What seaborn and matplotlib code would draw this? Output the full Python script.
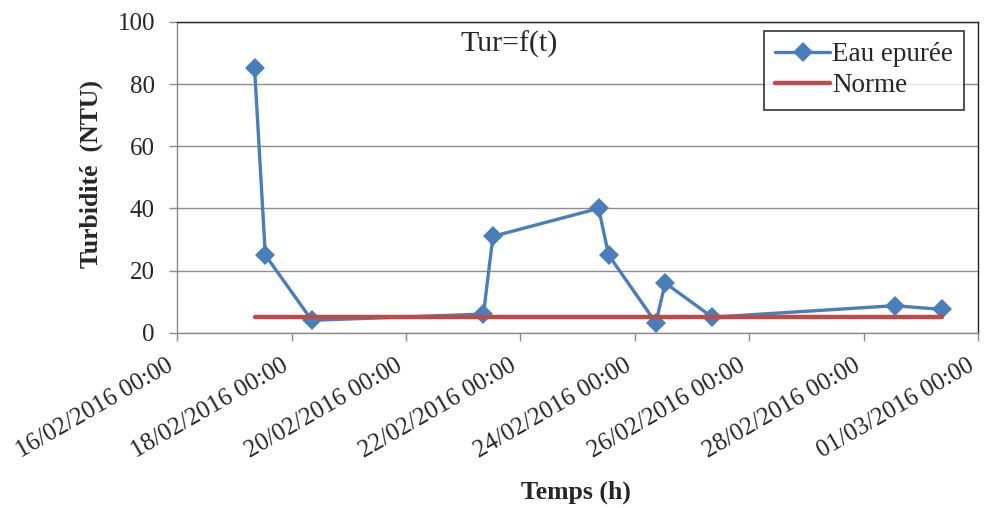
import matplotlib
matplotlib.use("Agg")
import matplotlib.pyplot as plt
import matplotlib.dates as mdates
import seaborn as sns
import pandas as pd
import numpy as np

# Data
times = ["2016-02-17 08:30", "2016-02-17 13:00", "2016-02-18 08:30",
         "2016-02-21 08:30", "2016-02-21 12:30", "2016-02-23 08:50",
         "2016-02-23 13:00", "2016-02-24 08:50", "2016-02-24 12:45",
         "2016-02-25 08:30", "2016-02-28 13:00", "2016-02-29 08:50"]
eau_epuree = [85, 25, 4, 6, 31, 40, 25, 3.2, 16, 5, 8.7, 7.5]
norme_times = ["2016-02-17 08:30", "2016-02-29 08:50"]
norme_values = [5, 5]
tick_dates = ["2016-02-16", "2016-02-18", "2016-02-20", "2016-02-22",
              "2016-02-24", "2016-02-26", "2016-02-28", "2016-03-01"]

df = pd.DataFrame({"t": pd.to_datetime(times), "v": eau_epuree})
dn = pd.DataFrame({"t": pd.to_datetime(norme_times), "v": norme_values})

sns.set_style("white")
plt.rcParams['font.family'] = ['Liberation Serif', 'DejaVu Serif']

fig = plt.figure(figsize=(9.84, 5.08), dpi=100)
ax = fig.add_axes([0.18, 0.345, 0.814, 0.612])

blue = "#4A7EBB"
red = "#BE4B48"
sns.lineplot(data=df, x="t", y="v", ax=ax, color=blue, lw=2.4, marker="D",
             markersize=10.5, markeredgewidth=0, label="Eau epurée")
sns.lineplot(data=dn, x="t", y="v", ax=ax, color=red, lw=3.2,
             label="Norme", solid_capstyle="round")

ax.set_xlim(pd.Timestamp("2016-02-16"), pd.Timestamp("2016-03-01"))
ax.set_ylim(0, 100)
ax.set_yticks([0, 20, 40, 60, 80, 100])
ax.set_xticks(pd.to_datetime(tick_dates))
ax.xaxis.set_major_formatter(mdates.DateFormatter("%d/%m/%Y %H:%M"))
ax.grid(axis="y", color="#8c8c8c", lw=1)
ax.grid(axis="x", visible=False)
ax.tick_params(axis="both", direction="out", length=6, width=1,
               color="#8c8c8c", labelsize=18, bottom=True, left=True)
ax.tick_params(axis="y", pad=10)
ax.tick_params(axis="x", pad=10)
for lab in ax.get_xticklabels():
    lab.set_rotation(30)
    lab.set_ha("right")
    lab.set_va("top")

for s in ["left", "bottom"]:
    ax.spines[s].set_color("#8c8c8c")
    ax.spines[s].set_linewidth(1)
for s in ["top", "right"]:
    ax.spines[s].set_color("#222222")
    ax.spines[s].set_linewidth(1)

ax.set_xlabel("Temps (h)", fontsize=18.5, fontweight="bold")
ax.xaxis.set_label_coords(0.498, -0.476)
ax.xaxis.label.set_va("top")
ax.set_ylabel("Turbidité  (NTU)", fontsize=18.5, fontweight="bold")
ax.yaxis.set_label_coords(-0.093, 0.51)
ax.text(0.415, 0.97, "Tur=f(t)", transform=ax.transAxes, ha="center",
        va="top", fontsize=21.5)

leg = ax.legend(loc="upper right", bbox_to_anchor=(0.9825, 0.971), fontsize=19.5,
                frameon=True, fancybox=False, edgecolor="black",
                handlelength=2.0, handletextpad=0.08, borderpad=0.42,
                labelspacing=0.22, borderaxespad=0)
leg.get_frame().set_linewidth(1.2)

fig.savefig("out.png", dpi=100)
